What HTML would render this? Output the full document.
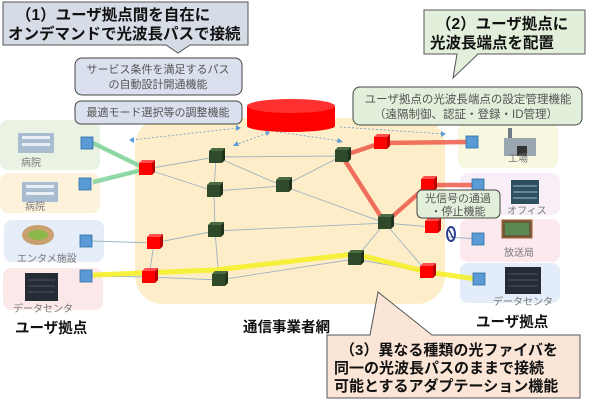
<!DOCTYPE html>
<html><head><meta charset="utf-8"><style>
body{margin:0;background:#fff;}
svg{display:block;font-family:"Liberation Sans","Noto Sans CJK JP",sans-serif;}
</style></head><body>
<svg width="600" height="403" viewBox="0 0 600 403" xmlns="http://www.w3.org/2000/svg">
<defs>
<g id="gn"><rect x="-7" y="-6" width="13" height="12" fill="#2f4a2a"/><polygon points="-7,-6 -4,-9 9,-9 6,-6" fill="#4a6a44"/><polygon points="6,-6 9,-9 9,3 6,6" fill="#1f331c"/></g>
<g id="rd"><rect x="-7" y="-6" width="13" height="12" fill="#f00"/><polygon points="-7,-6 -4,-9 9,-9 6,-6" fill="#ff5050"/><polygon points="6,-6 9,-9 9,3 6,6" fill="#b00"/></g>
<g id="bl"><rect x="-6" y="-6" width="12" height="12" fill="#5b9bd5" stroke="#2e6da4" stroke-width="0.8"/></g>
</defs>
<rect x="135" y="118" width="310" height="186" rx="28" fill="#fdeec9"/>
<rect x="0" y="120" width="100" height="50" rx="8" fill="#e9f2e3"/>
<rect x="0" y="173" width="100" height="40" rx="8" fill="#fdf3dc"/>
<rect x="4" y="220" width="100" height="42" rx="8" fill="#e5edf8"/>
<rect x="3" y="268" width="100" height="42" rx="8" fill="#fbe9e9"/>
<rect x="458" y="122" width="100" height="46" rx="8" fill="#f8f8e0"/>
<rect x="460" y="173" width="100" height="42" rx="8" fill="#f8eef8"/>
<rect x="460" y="219" width="100" height="43" rx="8" fill="#fbe9ee"/>
<rect x="460" y="263" width="100" height="40" rx="8" fill="#e3edf9"/>
<g stroke="#9fb3c0" stroke-width="0.9" fill="none">
<path d="M146,169 L216,157 L342,156 L381,143"/>
<path d="M146,169 L214,191 L283,186 L342,156 L385,223 L283,186"/>
<path d="M216,157 L214,191 L215,231 L219,280 L355,259 L385,223 L428,185"/>
<path d="M216,157 L283,186"/>
<path d="M154,243 L215,231 L385,223 L432,227"/>
<path d="M154,243 L149,277 L219,280"/>
<path d="M385,223 L427,272 L355,259"/>
<path d="M93,184 L146,169 M93,143 L146,169"/>
<path d="M92,241 L154,243 M92,276 L149,277"/>
<path d="M448,237 L478,239"/>
</g>
<g fill="none" stroke-linejoin="round">
<path d="M93,143 L146,169 L93,182" stroke="#7fd39a" stroke-width="4.5" opacity="0.85"/>
<path d="M466,142 L381,143 L342,156 L385,223 L428,185 L472,185" stroke="#f05a4a" stroke-width="4.5" opacity="0.85"/>
<path d="M93,275 L215,270 L355,254 L427,272 L476,279" stroke="#f5ef2a" stroke-width="5" opacity="0.9"/>
</g>
<g stroke="#6a9ad0" stroke-width="0.8" stroke-dasharray="2,2" fill="#5b9bd5">
<line x1="132" y1="140" x2="238" y2="128"/>
<line x1="235" y1="145" x2="268" y2="133"/>
<line x1="272" y1="131" x2="340" y2="141"/>
<line x1="340" y1="127" x2="444" y2="134"/>
</g>
<g fill="#5b9bd5">
<polygon points="129,140 134,137 134,143"/><polygon points="241,128 236,125 236,131"/>
<polygon points="233,146 237,141 239,146"/><polygon points="270,132 265,131 267,136"/>
<polygon points="343,142 338,138 337,143"/><polygon points="446,134 441,131 441,137"/>
</g>
<rect x="247" y="106" width="88" height="20" fill="#f00"/>
<ellipse cx="291" cy="126" rx="44" ry="6" fill="#f00"/>
<ellipse cx="291" cy="106" rx="44" ry="7" fill="#ff3030"/>
<use href="#gn" x="216" y="157"/><use href="#gn" x="342" y="156"/><use href="#gn" x="214" y="191"/>
<use href="#gn" x="283" y="186"/><use href="#gn" x="385" y="223"/><use href="#gn" x="215" y="231"/>
<use href="#gn" x="219" y="280"/><use href="#gn" x="355" y="259"/>
<use href="#rd" x="146" y="169"/><use href="#rd" x="381" y="143"/><use href="#rd" x="428" y="185"/>
<use href="#rd" x="432" y="227"/><use href="#rd" x="154" y="243"/><use href="#rd" x="149" y="277"/><use href="#rd" x="427" y="272"/>
<use href="#bl" x="87" y="143"/><use href="#bl" x="85" y="184"/><use href="#bl" x="86" y="241"/><use href="#bl" x="86" y="276"/>
<use href="#bl" x="472" y="142"/><use href="#bl" x="478" y="185"/><use href="#bl" x="478" y="239"/><use href="#bl" x="479" y="279"/>
<ellipse cx="451" cy="234" rx="4" ry="7" fill="none" stroke="#2f3f8f" stroke-width="2"/>
<line x1="449" y1="230" x2="453" y2="238" stroke="#2f3f8f" stroke-width="1.5"/>
<g><rect x="18" y="133" width="36" height="20" fill="#a9bdd0"/><rect x="22" y="136" width="28" height="3" fill="#e8eef4"/><rect x="22" y="143" width="28" height="3" fill="#e8eef4"/>
<rect x="22" y="182" width="36" height="20" fill="#a9bdd0"/><rect x="26" y="185" width="28" height="3" fill="#e8eef4"/><rect x="26" y="192" width="28" height="3" fill="#e8eef4"/></g>
<ellipse cx="38" cy="235" rx="16" ry="10" fill="#c9a070"/><ellipse cx="38" cy="235" rx="10" ry="5" fill="#8cb84a"/>
<rect x="25" y="273" width="33" height="28" fill="#262c36"/><g stroke="#4a5566"><line x1="28" y1="280" x2="55" y2="280"/><line x1="28" y1="286" x2="55" y2="286"/><line x1="28" y1="292" x2="55" y2="292"/></g>
<rect x="504" y="138" width="32" height="18" fill="#9aa6b0"/><rect x="508" y="128" width="4" height="10" fill="#6f7a84"/><rect x="517" y="146" width="10" height="10" fill="#333"/>
<rect x="511" y="180" width="28" height="24" fill="#2f4f5f"/><g stroke="#8fc0d0"><line x1="513" y1="186" x2="537" y2="186"/><line x1="513" y1="192" x2="537" y2="192"/><line x1="513" y1="198" x2="537" y2="198"/></g>
<rect x="502" y="220" width="30" height="18" fill="#6a5a3a" stroke="#b06030"/><rect x="505" y="223" width="24" height="12" fill="#5a8a50"/>
<rect x="505" y="267" width="36" height="27" fill="#262c36"/><g stroke="#4a5566"><line x1="508" y1="274" x2="538" y2="274"/><line x1="508" y1="280" x2="538" y2="280"/><line x1="508" y1="286" x2="538" y2="286"/></g>
<g font-size="10" fill="#777">
<text x="21" y="166">病院</text><text x="25" y="210">病院</text>
<text x="17" y="262">エンタメ施設</text><text x="13" y="312">データセンタ</text>
<text x="508" y="162">工場</text><text x="507" y="214">オフィス</text>
<text x="504" y="256">放送局</text><text x="493" y="305">データセンタ</text>
</g>
<g font-size="14.5" font-weight="bold" fill="#111">
<text x="15" y="333">ユーザ拠点</text><text x="243" y="332">通信事業者網</text><text x="476" y="327">ユーザ拠点</text>
</g>
<path d="M3,2 H248 V45 H190 L178,53 L166,45 H3 Z" fill="#d6dce5" stroke="#555" stroke-width="1"/>
<g font-size="15.5" font-weight="bold" fill="#111"><text x="16" y="20">（1）ユーザ拠点間を自在に</text><text x="8" y="39">オンデマンドで光波長パスで接続</text></g>
<rect x="75" y="58" width="167" height="37" rx="7" fill="#dae0ee" stroke="#444" stroke-width="1"/>
<g font-size="11" fill="#555" text-anchor="middle"><text x="158" y="73">サービス条件を満足するパス</text><text x="158" y="88">の自動設計開通機能</text></g>
<rect x="75" y="101" width="167" height="23" rx="6" fill="#dae0ee" stroke="#444" stroke-width="1"/>
<text x="158" y="116" font-size="11" fill="#555" text-anchor="middle">最適モード選択等の調整機能</text>
<path d="M424,10 H585 V54 H478 L453,78 L457,54 H424 Z" fill="#e2efda" stroke="#555" stroke-width="1"/>
<g font-size="15.5" font-weight="bold" fill="#111"><text x="436" y="29">（2）ユーザ拠点に</text><text x="430" y="48">光波長端点を配置</text></g>
<rect x="353" y="87" width="229" height="38" rx="7" fill="#e2efda" stroke="#444" stroke-width="1"/>
<g font-size="11.5" fill="#555" text-anchor="middle"><text x="468" y="103">ユーザ拠点の光波長端点の設定管理機能</text><text x="466" y="118">（遠隔制御、認証・登録・ID管理）</text></g>
<rect x="417" y="190" width="83" height="28" rx="5" fill="#e2efda" stroke="#444" stroke-width="1"/>
<g font-size="11" fill="#555" text-anchor="middle"><text x="458" y="202">光信号の通過</text><text x="458" y="215">・停止機能</text></g>
<path d="M327,335 H370 L378,292 L432,335 H580 V398 H327 Z" fill="#fbe5d6" stroke="#555" stroke-width="1"/>
<g font-size="15" font-weight="bold" fill="#111"><text x="340" y="355">（3）異なる種類の光ファイバを</text><text x="334" y="373">同一の光波長パスのままで接続</text><text x="334" y="391">可能とするアダプテーション機能</text></g>
</svg>
</body></html>
